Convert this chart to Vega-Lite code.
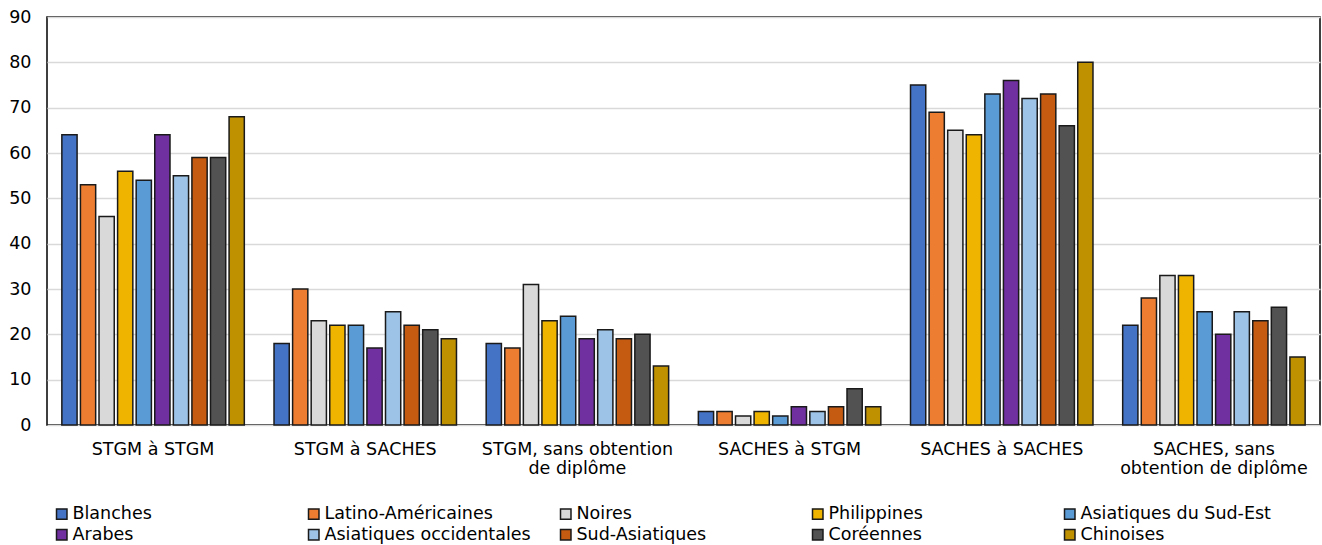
{
  "$schema": "https://vega.github.io/schema/vega-lite/v6.json",
  "width": 1273,
  "height": 408,
  "autosize": {"type": "none"},
  "padding": {"left": 47, "top": 17, "right": 2, "bottom": 120},
  "background": "white",
  "config": {
    "font": "DejaVu Sans",
    "view": {"stroke": "black", "strokeWidth": 1.5},
    "axis": {"labelFont": "DejaVu Sans", "labelColor": "black", "labelFontSize": 17.5}
  },
  "data": {
    "values": [
      {"cat": "STGM à STGM", "grp": "Blanches", "v": 64},
      {"cat": "STGM à STGM", "grp": "Latino-Américaines", "v": 53},
      {"cat": "STGM à STGM", "grp": "Noires", "v": 46},
      {"cat": "STGM à STGM", "grp": "Philippines", "v": 56},
      {"cat": "STGM à STGM", "grp": "Asiatiques du Sud-Est", "v": 54},
      {"cat": "STGM à STGM", "grp": "Arabes", "v": 64},
      {"cat": "STGM à STGM", "grp": "Asiatiques occidentales", "v": 55},
      {"cat": "STGM à STGM", "grp": "Sud-Asiatiques", "v": 59},
      {"cat": "STGM à STGM", "grp": "Coréennes", "v": 59},
      {"cat": "STGM à STGM", "grp": "Chinoises", "v": 68},
      {"cat": "STGM à SACHES", "grp": "Blanches", "v": 18},
      {"cat": "STGM à SACHES", "grp": "Latino-Américaines", "v": 30},
      {"cat": "STGM à SACHES", "grp": "Noires", "v": 23},
      {"cat": "STGM à SACHES", "grp": "Philippines", "v": 22},
      {"cat": "STGM à SACHES", "grp": "Asiatiques du Sud-Est", "v": 22},
      {"cat": "STGM à SACHES", "grp": "Arabes", "v": 17},
      {"cat": "STGM à SACHES", "grp": "Asiatiques occidentales", "v": 25},
      {"cat": "STGM à SACHES", "grp": "Sud-Asiatiques", "v": 22},
      {"cat": "STGM à SACHES", "grp": "Coréennes", "v": 21},
      {"cat": "STGM à SACHES", "grp": "Chinoises", "v": 19},
      {"cat": "STGM, sans obtention de diplôme", "grp": "Blanches", "v": 18},
      {"cat": "STGM, sans obtention de diplôme", "grp": "Latino-Américaines", "v": 17},
      {"cat": "STGM, sans obtention de diplôme", "grp": "Noires", "v": 31},
      {"cat": "STGM, sans obtention de diplôme", "grp": "Philippines", "v": 23},
      {"cat": "STGM, sans obtention de diplôme", "grp": "Asiatiques du Sud-Est", "v": 24},
      {"cat": "STGM, sans obtention de diplôme", "grp": "Arabes", "v": 19},
      {"cat": "STGM, sans obtention de diplôme", "grp": "Asiatiques occidentales", "v": 21},
      {"cat": "STGM, sans obtention de diplôme", "grp": "Sud-Asiatiques", "v": 19},
      {"cat": "STGM, sans obtention de diplôme", "grp": "Coréennes", "v": 20},
      {"cat": "STGM, sans obtention de diplôme", "grp": "Chinoises", "v": 13},
      {"cat": "SACHES à STGM", "grp": "Blanches", "v": 3},
      {"cat": "SACHES à STGM", "grp": "Latino-Américaines", "v": 3},
      {"cat": "SACHES à STGM", "grp": "Noires", "v": 2},
      {"cat": "SACHES à STGM", "grp": "Philippines", "v": 3},
      {"cat": "SACHES à STGM", "grp": "Asiatiques du Sud-Est", "v": 2},
      {"cat": "SACHES à STGM", "grp": "Arabes", "v": 4},
      {"cat": "SACHES à STGM", "grp": "Asiatiques occidentales", "v": 3},
      {"cat": "SACHES à STGM", "grp": "Sud-Asiatiques", "v": 4},
      {"cat": "SACHES à STGM", "grp": "Coréennes", "v": 8},
      {"cat": "SACHES à STGM", "grp": "Chinoises", "v": 4},
      {"cat": "SACHES à SACHES", "grp": "Blanches", "v": 75},
      {"cat": "SACHES à SACHES", "grp": "Latino-Américaines", "v": 69},
      {"cat": "SACHES à SACHES", "grp": "Noires", "v": 65},
      {"cat": "SACHES à SACHES", "grp": "Philippines", "v": 64},
      {"cat": "SACHES à SACHES", "grp": "Asiatiques du Sud-Est", "v": 73},
      {"cat": "SACHES à SACHES", "grp": "Arabes", "v": 76},
      {"cat": "SACHES à SACHES", "grp": "Asiatiques occidentales", "v": 72},
      {"cat": "SACHES à SACHES", "grp": "Sud-Asiatiques", "v": 73},
      {"cat": "SACHES à SACHES", "grp": "Coréennes", "v": 66},
      {"cat": "SACHES à SACHES", "grp": "Chinoises", "v": 80},
      {"cat": "SACHES, sans obtention de diplôme", "grp": "Blanches", "v": 22},
      {"cat": "SACHES, sans obtention de diplôme", "grp": "Latino-Américaines", "v": 28},
      {"cat": "SACHES, sans obtention de diplôme", "grp": "Noires", "v": 33},
      {"cat": "SACHES, sans obtention de diplôme", "grp": "Philippines", "v": 33},
      {"cat": "SACHES, sans obtention de diplôme", "grp": "Asiatiques du Sud-Est", "v": 25},
      {"cat": "SACHES, sans obtention de diplôme", "grp": "Arabes", "v": 20},
      {"cat": "SACHES, sans obtention de diplôme", "grp": "Asiatiques occidentales", "v": 25},
      {"cat": "SACHES, sans obtention de diplôme", "grp": "Sud-Asiatiques", "v": 23},
      {"cat": "SACHES, sans obtention de diplôme", "grp": "Coréennes", "v": 26},
      {"cat": "SACHES, sans obtention de diplôme", "grp": "Chinoises", "v": 15}
    ]
  },
  "mark": {"type": "bar", "stroke": "#1a1a1a", "strokeWidth": 1.5},
  "encoding": {
    "x": {
      "field": "cat",
      "type": "nominal",
      "sort": null,
      "title": null,
      "scale": {"paddingInner": 0.14, "paddingOuter": 0.07},
      "axis": {
        "labelAngle": 0,
        "ticks": false,
        "domain": false,
        "labelPadding": 15,
        "labelLimit": 400,
        "labelLineHeight": 19,
        "labelExpr": "datum.value == 'STGM, sans obtention de diplôme' ? ['STGM, sans obtention', 'de diplôme'] : datum.value == 'SACHES, sans obtention de diplôme' ? ['SACHES, sans', 'obtention de diplôme'] : datum.value"
      }
    },
    "xOffset": {
      "field": "grp",
      "type": "nominal",
      "sort": null,
      "scale": {"paddingInner": 0.18, "paddingOuter": 0.0}
    },
    "y": {
      "field": "v",
      "type": "quantitative",
      "title": null,
      "scale": {"domain": [0, 90]},
      "axis": {
        "values": [0, 10, 20, 30, 40, 50, 60, 70, 80, 90],
        "ticks": false,
        "domain": false,
        "labelPadding": 16,
        "gridColor": "#D9D9D9",
        "gridWidth": 1.5
      }
    },
    "color": {
      "field": "grp",
      "type": "nominal",
      "sort": null,
      "title": null,
      "scale": {
        "domain": ["Blanches", "Latino-Américaines", "Noires", "Philippines", "Asiatiques du Sud-Est", "Arabes", "Asiatiques occidentales", "Sud-Asiatiques", "Coréennes", "Chinoises"],
        "range": ["#4472C4", "#ED7D31", "#D9D9D9", "#EEB400", "#5B9BD5", "#7030A0", "#9DC3E6", "#C55A11", "#525252", "#BF9000"]
      },
      "legend": {
        "orient": "none",
        "legendX": 6,
        "legendY": 488,
        "direction": "horizontal",
        "columns": 5,
        "gridAlign": "all",
        "columnPadding": 26,
        "rowPadding": 2,
        "symbolType": "square",
        "symbolSize": 110,
        "symbolStrokeColor": "#1a1a1a",
        "symbolStrokeWidth": 1.5,
        "symbolOffset": 0,
        "labelOffset": 2,
        "labelFontSize": 17.5,
        "labelColor": "black",
        "labelFont": "DejaVu Sans",
        "labelLimit": 400
      }
    }
  }
}
